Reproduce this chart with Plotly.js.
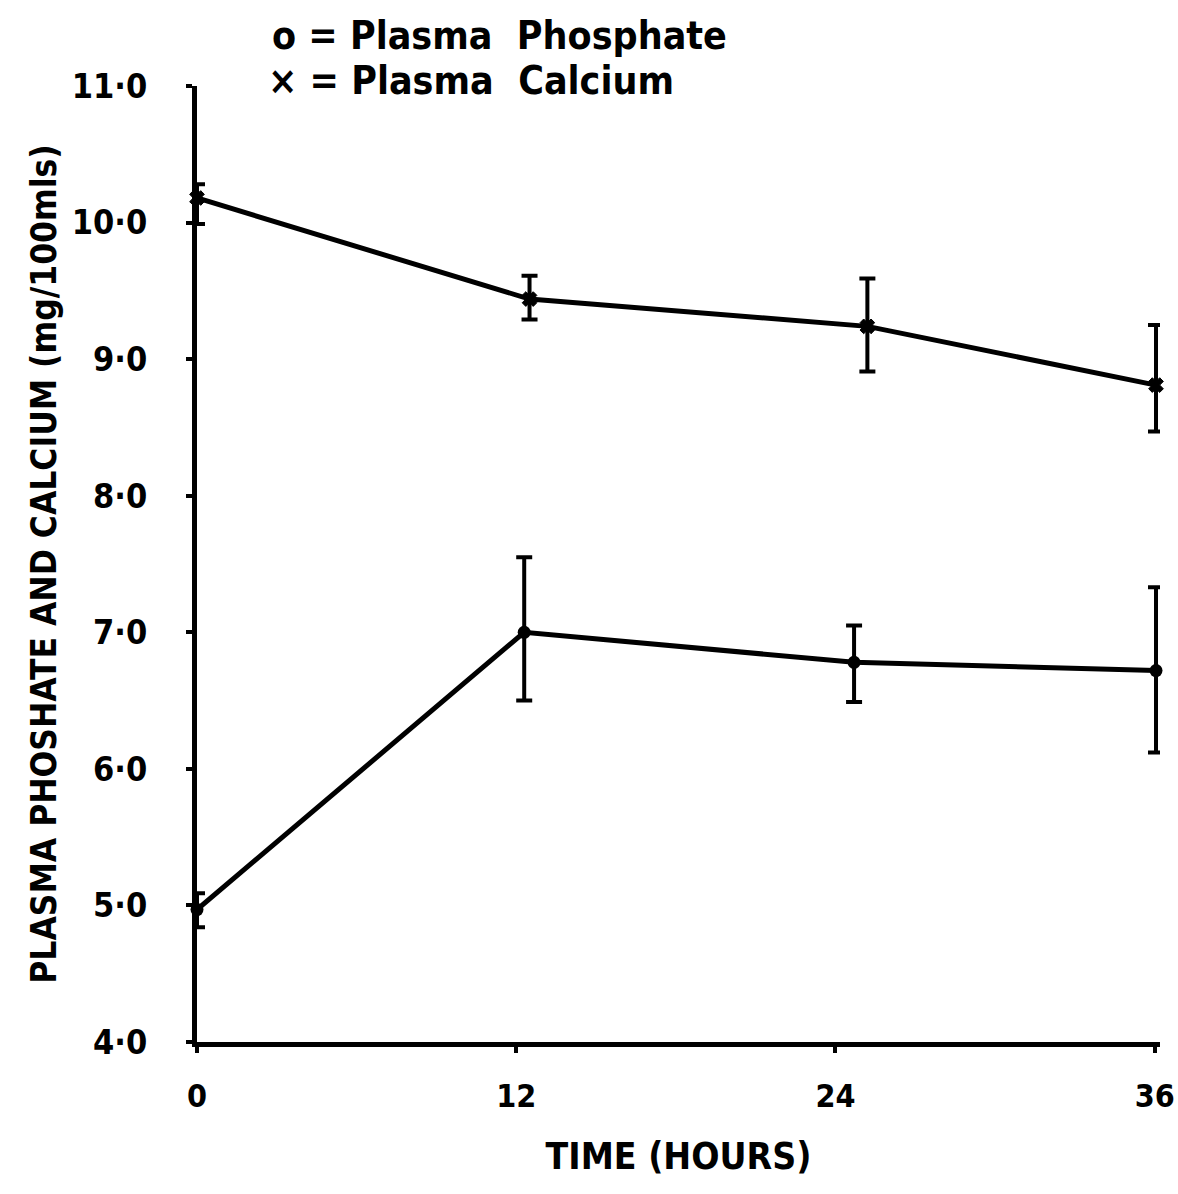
<!DOCTYPE html>
<html>
<head>
<meta charset="utf-8">
<script src="https://cdn.plot.ly/plotly-3.0.1.min.js"></script>
<style>html,body{margin:0;padding:0;background:#fff;}#chart{width:1178px;height:1194px;}</style>
</head>
<body>
<div id="chart"></div>
<script>
// Data (hours as placed on the hand-drawn axis)
const phosTime = [0, 12.3, 24.7, 36.05];
const phosValue = [4.97, 7.0, 6.78, 6.72];
const phosUpper = [5.09, 7.55, 7.05, 7.33];
const phosLower = [4.84, 6.5, 6.49, 6.12];

const calcTime = [0, 12.5, 25.2, 36.05];
const calcValue = [10.18, 9.44, 9.24, 8.81];
const calcUpper = [10.28, 9.61, 9.59, 9.25];
const calcLower = [9.99, 9.29, 8.91, 8.47];

const xTickVals = [0, 12, 24, 36];
const xTickText = ['0', '12', '24', '36'];
const yTickVals = [4, 5, 6, 7, 8, 9, 10, 11];
const yTickText = ['4·0', '5·0', '6·0', '7·0', '8·0', '9·0', '10·0', '11·0'];

const legendPhos = 'o = Plasma  Phosphate';
const legendCalc = '× = Plasma  Calcium';
const xTitle = 'TIME (HOURS)';
const yTitle = 'PLASMA PHOSHATE AND CALCIUM (mg/100mls)';

const FONT = '"DejaVu Sans Condensed", "DejaVu Sans", sans-serif';

function errs(v, up, lo) {
  return {
    plus: up.map((u, i) => +(u - v[i]).toFixed(3)),
    minus: lo.map((l, i) => +(v[i] - l).toFixed(3))
  };
}
const pe = errs(phosValue, phosUpper, phosLower);
const ce = errs(calcValue, calcUpper, calcLower);

const traces = [
  {
    x: phosTime, y: phosValue, type: 'scatter', mode: 'lines+markers',
    line: {color: '#000', width: 5},
    marker: {symbol: 'circle', size: 13, color: '#000'},
    error_y: {type: 'data', symmetric: false, array: pe.plus, arrayminus: pe.minus,
              color: '#000', thickness: 4, width: 8},
    cliponaxis: false, showlegend: false
  },
  {
    x: calcTime, y: calcValue, type: 'scatter', mode: 'lines+markers',
    line: {color: '#000', width: 5},
    marker: {symbol: 'x', size: 13, color: '#000', line: {width: 1, color: '#000'}},
    error_y: {type: 'data', symmetric: false, array: ce.plus, arrayminus: ce.minus,
              color: '#000', thickness: 4, width: 8},
    cliponaxis: false, showlegend: false
  }
];

const layout = {
  width: 1178, height: 1194,
  margin: {l: 197, r: 18, t: 86, b: 152},
  paper_bgcolor: '#fff', plot_bgcolor: '#fff',
  font: {family: FONT, color: '#000'},
  xaxis: {
    range: [0, 36.2], tickvals: xTickVals, ticktext: xTickText,
    showline: true, linewidth: 5, linecolor: '#000',
    ticks: 'outside', ticklen: 6, tickwidth: 4, tickcolor: '#000',
    showgrid: false, zeroline: false,
    tickfont: {family: FONT, size: 32, color: '#000', weight: 'bold'},
    ticklabelstandoff: 16,
    title: {text: xTitle, font: {family: FONT, size: 37, color: '#000', weight: 'bold'}, standoff: 30}
  },
  yaxis: {
    range: [4, 11], tickvals: yTickVals, ticktext: yTickText,
    showline: true, linewidth: 5, linecolor: '#000',
    ticks: 'outside', ticklen: 6, tickwidth: 4, tickcolor: '#000',
    showgrid: false, zeroline: false,
    tickfont: {family: FONT, size: 34, color: '#000', weight: 'bold'},
    ticklabelstandoff: 32,
    title: {text: yTitle, font: {family: FONT, size: 35, color: '#000', weight: 'bold'}, standoff: 6}
  },
  annotations: [
    {text: legendPhos, xref: 'paper', yref: 'paper', x: 0.076, y: 1.053,
     xanchor: 'left', yanchor: 'middle', showarrow: false,
     font: {family: FONT, size: 39, color: '#000', weight: 'bold'}},
    {text: legendCalc, xref: 'paper', yref: 'paper', x: 0.072, y: 1.006,
     xanchor: 'left', yanchor: 'middle', showarrow: false,
     font: {family: FONT, size: 39, color: '#000', weight: 'bold'}}
  ]
};

Plotly.newPlot('chart', traces, layout, {staticPlot: true, displayModeBar: false});
</script>
</body>
</html>
